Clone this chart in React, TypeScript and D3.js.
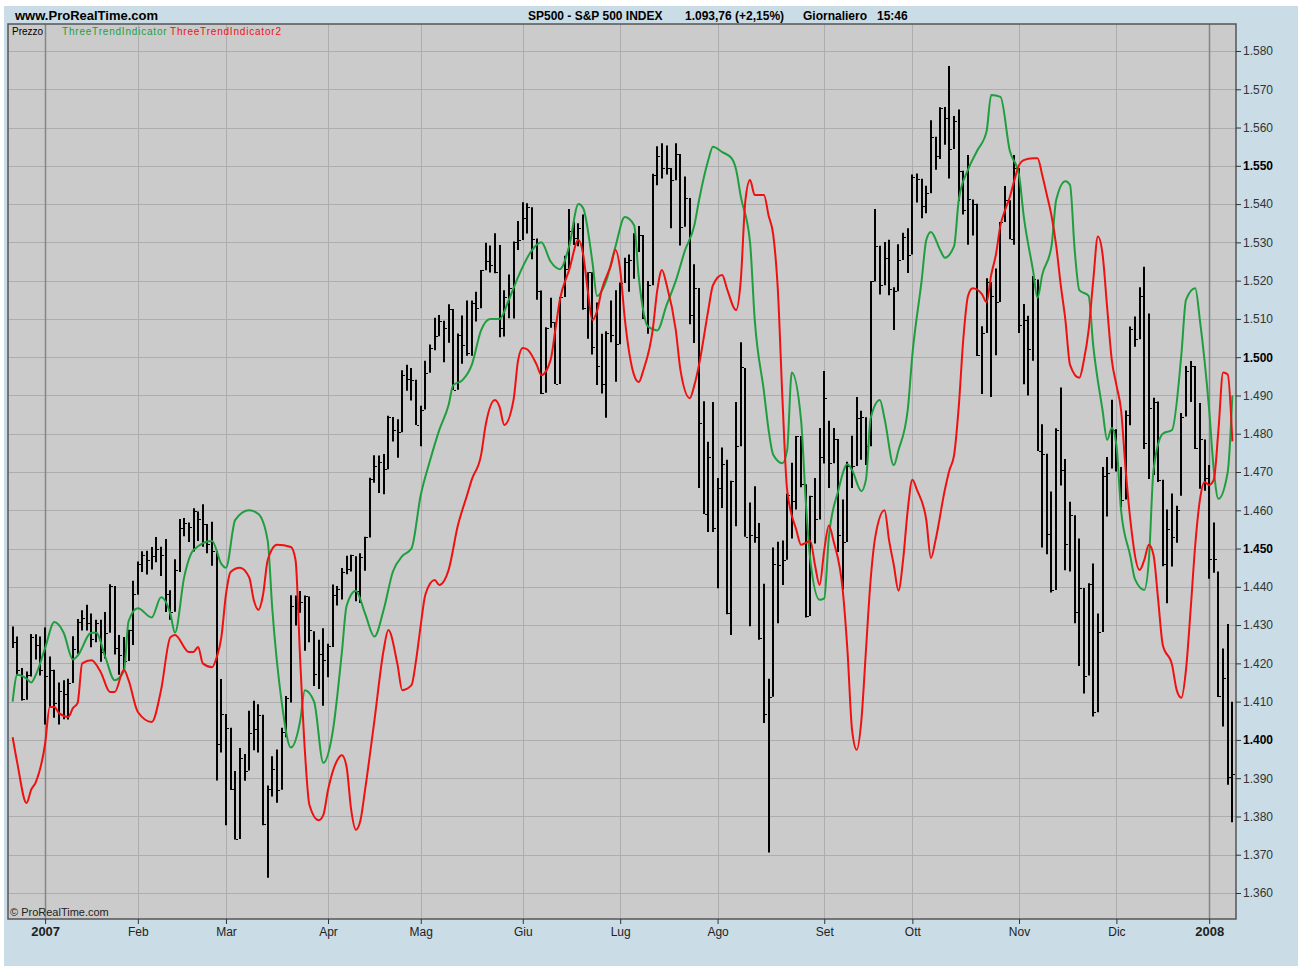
import * as d3 from "d3";
import { useRef, useEffect } from "react";

const width = 1298;
const height = 967;
const plotLeft = 8;
const plotRight = 1236;
const plotTop = 24;
const plotBottom = 919;

const fontFamily = "'Liberation Sans', Arial, Helvetica, sans-serif";

// [day, high, low, close]
type Row = [number, number, number, number];

const dec06: Row[] = [
  [20, 1429.6, 1424.0, 1425.5], [21, 1427.0, 1416.8, 1418.3], [22, 1418.8, 1410.3, 1410.8],
  [26, 1417.9, 1410.5, 1416.9], [27, 1427.7, 1416.6, 1426.8], [28, 1427.6, 1421.0, 1424.7],
  [29, 1427.0, 1416.8, 1418.3],
];
const jan07: Row[] = [
  [3, 1429.4, 1404.0, 1416.6], [4, 1421.8, 1408.4, 1418.3], [5, 1418.3, 1405.8, 1409.7],
  [8, 1415.0, 1404.0, 1412.8], [9, 1415.6, 1405.4, 1412.1], [10, 1416.0, 1405.3, 1414.9],
  [11, 1427.1, 1414.9, 1423.8], [12, 1431.6, 1422.5, 1430.7], [16, 1433.9, 1428.6, 1431.9],
  [17, 1435.3, 1428.6, 1430.6], [18, 1433.0, 1424.2, 1426.4], [19, 1431.4, 1425.5, 1430.5],
  [22, 1431.4, 1420.4, 1423.0], [23, 1433.4, 1421.3, 1428.0], [24, 1440.7, 1428.0, 1440.1],
  [25, 1440.2, 1422.3, 1423.9], [26, 1427.4, 1417.0, 1422.2], [29, 1426.9, 1418.5, 1420.6],
  [30, 1428.8, 1420.6, 1428.8], [31, 1441.6, 1424.8, 1438.2],
];
const feb07: Row[] = [
  [1, 1446.6, 1437.9, 1445.9], [2, 1449.3, 1443.9, 1448.4], [5, 1449.4, 1443.2, 1447.0],
  [6, 1450.4, 1444.5, 1448.0], [7, 1453.0, 1446.4, 1450.0], [8, 1450.5, 1442.8, 1448.3],
  [9, 1452.5, 1433.4, 1438.1], [12, 1439.1, 1431.4, 1433.4], [13, 1447.2, 1433.5, 1444.3],
  [14, 1457.7, 1443.9, 1455.3], [15, 1458.0, 1453.2, 1456.8], [16, 1456.8, 1451.7, 1455.5],
  [20, 1460.5, 1449.2, 1459.7], [21, 1459.7, 1452.0, 1457.6], [22, 1461.6, 1450.5, 1456.4],
  [23, 1456.4, 1448.8, 1451.2], [26, 1457.0, 1445.5, 1449.4], [27, 1449.4, 1389.4, 1399.0],
  [28, 1415.9, 1396.7, 1406.8],
];
const mar07: Row[] = [
  [1, 1406.8, 1377.7, 1403.2], [2, 1403.2, 1386.9, 1387.2], [5, 1391.9, 1374.0, 1374.1],
  [6, 1397.9, 1374.1, 1395.4], [7, 1396.3, 1389.3, 1392.0], [8, 1407.6, 1392.0, 1401.9],
  [9, 1410.2, 1397.3, 1402.8], [12, 1409.3, 1396.7, 1406.6], [13, 1406.6, 1377.7, 1378.0],
  [14, 1388.1, 1364.0, 1387.2], [15, 1395.7, 1385.2, 1392.3], [16, 1397.5, 1383.6, 1387.0],
  [19, 1403.2, 1387.0, 1402.1], [20, 1411.5, 1400.7, 1410.9], [21, 1437.8, 1409.8, 1435.0],
  [22, 1437.7, 1429.9, 1434.5], [23, 1438.9, 1433.2, 1436.1], [26, 1437.7, 1423.3, 1437.5],
  [27, 1437.5, 1425.5, 1428.6], [28, 1428.4, 1414.1, 1417.2], [29, 1426.2, 1413.3, 1422.5],
  [30, 1429.2, 1408.9, 1420.9],
];
const apr07: Row[] = [
  [2, 1425.1, 1416.4, 1424.6], [3, 1440.6, 1424.3, 1437.8], [4, 1440.2, 1435.1, 1439.4],
  [5, 1444.9, 1436.7, 1443.8], [9, 1448.1, 1443.3, 1444.6], [10, 1448.4, 1444.0, 1448.4],
  [11, 1448.0, 1436.2, 1438.9], [12, 1448.8, 1435.8, 1447.8], [13, 1453.1, 1444.2, 1452.9],
  [16, 1468.5, 1452.9, 1468.3], [17, 1474.4, 1467.2, 1471.5], [18, 1474.3, 1464.5, 1472.5],
  [19, 1474.7, 1464.2, 1470.7], [20, 1484.7, 1470.7, 1484.4], [23, 1484.4, 1478.0, 1480.9],
  [24, 1483.8, 1473.7, 1480.4], [25, 1496.6, 1480.4, 1495.4], [26, 1498.0, 1491.2, 1494.3],
  [27, 1497.2, 1488.7, 1494.1], [30, 1494.1, 1482.3, 1482.4],
];
const may07: Row[] = [
  [1, 1487.3, 1476.7, 1486.3], [2, 1499.1, 1486.3, 1495.9], [3, 1503.3, 1495.9, 1502.4],
  [4, 1510.3, 1501.8, 1505.6], [7, 1511.0, 1505.5, 1509.5], [8, 1509.5, 1498.7, 1507.7],
  [9, 1513.8, 1503.8, 1512.6], [10, 1512.6, 1491.4, 1491.5], [11, 1506.2, 1491.5, 1505.9],
  [14, 1510.9, 1498.3, 1503.2], [15, 1514.8, 1500.4, 1501.2], [16, 1514.8, 1500.4, 1514.1],
  [17, 1517.1, 1509.3, 1512.8], [18, 1522.8, 1512.8, 1522.8], [21, 1529.9, 1522.7, 1525.1],
  [22, 1529.2, 1522.1, 1524.1], [23, 1532.4, 1521.9, 1522.3], [24, 1529.3, 1505.2, 1507.5],
  [25, 1517.5, 1505.4, 1515.7], [29, 1521.6, 1510.2, 1518.1], [30, 1530.2, 1510.1, 1530.2],
  [31, 1535.6, 1528.0, 1530.6],
];
const jun07: Row[] = [
  [1, 1540.5, 1530.6, 1536.3], [4, 1540.2, 1532.3, 1539.2], [5, 1539.2, 1525.6, 1531.0],
  [6, 1531.0, 1515.0, 1517.4], [7, 1517.4, 1490.4, 1490.7], [8, 1507.8, 1490.7, 1507.7],
  [11, 1515.5, 1507.7, 1509.1], [12, 1509.1, 1493.0, 1493.0], [13, 1515.7, 1493.0, 1515.7],
  [14, 1526.5, 1515.7, 1523.0], [15, 1538.7, 1523.0, 1532.9], [18, 1535.4, 1529.3, 1531.1],
  [19, 1535.0, 1529.0, 1533.7], [20, 1537.3, 1512.4, 1512.8], [21, 1522.2, 1504.8, 1522.2],
  [22, 1522.2, 1500.7, 1502.6], [25, 1514.3, 1492.7, 1497.7], [26, 1506.1, 1490.5, 1492.9],
  [27, 1506.8, 1484.2, 1506.3], [28, 1514.8, 1503.9, 1505.7], [29, 1517.5, 1493.6, 1503.4],
];
const jul07: Row[] = [
  [2, 1519.5, 1503.4, 1519.4], [3, 1526.0, 1519.4, 1524.9], [5, 1526.8, 1517.1, 1525.4],
  [6, 1532.4, 1520.5, 1530.4], [9, 1534.3, 1527.5, 1531.9], [10, 1531.9, 1510.0, 1510.1],
  [11, 1519.9, 1506.1, 1518.8], [12, 1547.9, 1518.8, 1547.7], [13, 1555.1, 1544.9, 1552.5],
  [16, 1555.9, 1546.7, 1549.5], [17, 1555.3, 1547.7, 1549.4], [18, 1549.4, 1533.7, 1546.2],
  [19, 1555.9, 1546.2, 1553.1], [20, 1553.1, 1529.2, 1534.1], [23, 1547.2, 1534.1, 1541.6],
  [24, 1541.6, 1508.6, 1511.0], [25, 1524.3, 1503.7, 1518.1], [26, 1518.1, 1465.8, 1482.7],
  [27, 1488.5, 1459.0, 1459.0], [30, 1477.9, 1454.3, 1473.9], [31, 1488.3, 1454.3, 1455.3],
];
const aug07: Row[] = [
  [1, 1468.4, 1439.6, 1465.8], [2, 1476.4, 1460.6, 1472.2], [3, 1473.2, 1432.8, 1433.1],
  [6, 1467.7, 1427.4, 1467.7], [7, 1488.3, 1455.8, 1476.7], [8, 1503.9, 1476.7, 1497.5],
  [9, 1497.2, 1453.1, 1453.1], [10, 1462.0, 1429.7, 1453.6], [13, 1466.3, 1451.5, 1452.9],
  [14, 1456.7, 1426.2, 1426.5], [15, 1440.8, 1404.4, 1406.7], [16, 1416.0, 1370.6, 1411.3],
  [17, 1450.3, 1411.3, 1445.9], [20, 1451.8, 1430.5, 1445.6], [21, 1452.1, 1440.5, 1447.1],
  [22, 1464.4, 1447.1, 1464.1], [23, 1472.4, 1452.6, 1462.5], [24, 1479.4, 1460.2, 1479.4],
  [27, 1479.4, 1466.0, 1466.8], [28, 1466.8, 1432.0, 1432.4], [29, 1463.8, 1432.4, 1463.8],
  [30, 1468.4, 1451.3, 1457.6], [31, 1481.5, 1457.6, 1474.0],
];
const sep07: Row[] = [
  [4, 1496.4, 1472.2, 1489.4], [5, 1483.4, 1465.8, 1472.3], [6, 1481.5, 1472.3, 1478.6],
  [7, 1478.6, 1449.1, 1453.6], [10, 1462.8, 1439.3, 1451.7], [11, 1472.7, 1451.7, 1471.5],
  [12, 1479.5, 1465.8, 1471.6], [13, 1489.6, 1471.6, 1484.0], [14, 1486.0, 1473.2, 1484.3],
  [17, 1484.3, 1471.8, 1476.7], [18, 1519.9, 1476.7, 1519.8], [19, 1538.7, 1519.8, 1529.0],
  [20, 1529.1, 1516.4, 1518.8], [21, 1530.1, 1518.8, 1525.8], [24, 1530.7, 1516.2, 1517.7],
  [25, 1518.3, 1507.1, 1517.2], [26, 1529.5, 1517.2, 1525.4], [27, 1532.5, 1525.4, 1531.4],
  [28, 1533.7, 1522.0, 1526.8],
];
const oct07: Row[] = [
  [1, 1547.7, 1526.8, 1547.0], [2, 1548.0, 1540.4, 1546.6], [3, 1546.6, 1536.3, 1539.6],
  [4, 1544.8, 1537.6, 1542.8], [5, 1561.9, 1542.8, 1557.6], [8, 1557.6, 1549.0, 1552.6],
  [9, 1565.3, 1551.8, 1565.2], [10, 1565.4, 1555.5, 1562.5], [11, 1576.1, 1546.7, 1554.4],
  [12, 1563.0, 1554.4, 1561.8], [15, 1564.7, 1540.8, 1548.7], [16, 1548.7, 1537.3, 1538.5],
  [17, 1552.8, 1529.4, 1541.2], [18, 1541.2, 1531.8, 1540.1], [19, 1540.1, 1500.3, 1500.6],
  [22, 1508.1, 1490.4, 1506.3], [23, 1520.6, 1506.3, 1519.6], [24, 1519.6, 1489.6, 1515.9],
  [25, 1523.2, 1500.5, 1514.4], [26, 1535.3, 1514.4, 1535.3], [29, 1544.7, 1535.3, 1541.0],
  [30, 1541.0, 1530.8, 1531.0], [31, 1552.8, 1529.4, 1549.4],
];
const nov07: Row[] = [
  [1, 1549.4, 1506.3, 1508.4], [2, 1513.9, 1492.9, 1509.7], [5, 1510.8, 1490.0, 1502.2],
  [6, 1521.2, 1499.1, 1520.3], [7, 1520.3, 1475.5, 1475.6], [8, 1482.5, 1450.3, 1474.8],
  [9, 1474.8, 1448.5, 1453.7], [12, 1464.9, 1438.5, 1439.2], [13, 1481.4, 1439.2, 1481.1],
  [14, 1492.1, 1466.5, 1470.6], [15, 1473.4, 1444.3, 1451.2], [16, 1462.2, 1444.0, 1458.7],
  [19, 1458.7, 1430.5, 1433.3], [20, 1452.6, 1419.3, 1439.7], [21, 1439.7, 1412.1, 1416.8],
  [23, 1440.9, 1416.8, 1440.7], [26, 1446.1, 1406.1, 1407.2], [27, 1433.0, 1407.2, 1428.2],
  [28, 1471.3, 1428.2, 1469.0], [29, 1473.9, 1458.4, 1469.7], [30, 1488.9, 1470.9, 1481.1],
];
const dec07: Row[] = [
  [3, 1481.2, 1470.1, 1472.4], [4, 1471.3, 1460.7, 1462.8], [5, 1486.1, 1462.8, 1485.0],
  [6, 1508.0, 1482.2, 1507.3], [7, 1510.6, 1502.7, 1504.7], [10, 1518.3, 1504.7, 1516.0],
  [11, 1523.6, 1476.0, 1477.7], [12, 1511.4, 1468.2, 1486.6], [13, 1489.4, 1469.2, 1488.4],
  [14, 1488.4, 1467.4, 1468.0], [17, 1468.0, 1445.4, 1445.9], [18, 1460.2, 1435.7, 1455.0],
  [19, 1464.4, 1445.3, 1453.0], [20, 1461.2, 1451.5, 1460.1], [21, 1485.4, 1463.8, 1484.5],
  [24, 1497.7, 1484.5, 1496.5], [26, 1499.0, 1488.3, 1497.7], [27, 1497.7, 1476.0, 1476.3],
  [28, 1488.0, 1465.6, 1478.5], [31, 1478.5, 1465.1, 1468.4],
];
const jan08: Row[] = [
  [2, 1471.8, 1442.1, 1447.2], [3, 1456.8, 1443.7, 1447.2], [4, 1444.0, 1411.2, 1411.6],
  [7, 1423.9, 1403.5, 1416.2], [8, 1430.3, 1388.3, 1390.2], [9, 1410.0, 1378.5, 1391.0],
];

const months: [string, Row[]][] = [
  ["2006-12", dec06], ["2007-01", jan07], ["2007-02", feb07], ["2007-03", mar07],
  ["2007-04", apr07], ["2007-05", may07], ["2007-06", jun07], ["2007-07", jul07],
  ["2007-08", aug07], ["2007-09", sep07], ["2007-10", oct07], ["2007-11", nov07],
  ["2007-12", dec07], ["2008-01", jan08],
];

const monthLabels = ["2007", "Feb", "Mar", "Apr", "Mag", "Giu", "Lug", "Ago", "Set", "Ott", "Nov", "Dic", "2008"];
const yearLabels = ["2007", "2008"];

// [bar index, value]
const threeTrend: [number, number][] = [
  [0, 1410], [1, 1417], [3, 1416], [4, 1415], [5, 1417], [7, 1424], [9, 1430.8], [11, 1428],
  [13, 1421], [14, 1422], [17, 1428], [18, 1428], [20, 1421.6], [22, 1415.6], [24, 1418],
  [25, 1431], [27, 1434.4], [30, 1432], [32, 1437.3], [34, 1433], [35, 1428], [37, 1442.6],
  [39, 1449.6], [43, 1452], [45, 1446], [46, 1445], [48, 1457.5], [51, 1460], [53, 1459],
  [55, 1452], [56, 1434], [58, 1410], [60, 1398], [62, 1405], [63, 1413], [65, 1410],
  [67, 1394], [69, 1402], [71, 1423], [72, 1435], [74, 1439], [76, 1433], [78, 1427],
  [80, 1434], [82, 1444], [84, 1448], [86, 1450], [88, 1464], [90, 1473], [92, 1481],
  [94, 1487.5], [95, 1492.7], [97, 1494], [99, 1498], [101, 1507], [103, 1510], [105, 1510],
  [107, 1515], [109, 1521], [112, 1528], [114, 1530], [116, 1525], [118, 1523], [120, 1529],
  [122, 1540], [123, 1539], [125, 1525], [126, 1516], [128, 1520], [130, 1529], [132, 1536.6],
  [134, 1534.5], [135, 1521], [137, 1508], [139, 1507], [141, 1513.6], [143, 1520], [145, 1528],
  [147, 1534.5], [148, 1541], [150, 1551.5], [151, 1555], [153, 1553.6], [155, 1552], [156, 1549],
  [157, 1542], [159, 1530], [160, 1510], [162, 1491], [163, 1481], [164, 1474.5], [166, 1472.3],
  [167, 1475.7], [168, 1496], [170, 1483.6], [171, 1462.7], [172, 1447], [174, 1436.6],
  [175, 1437], [176, 1453], [178, 1465], [180, 1472], [181, 1470.5], [183, 1465], [184, 1468],
  [185, 1484], [187, 1488.8], [188, 1484], [190, 1471.8], [191, 1475.7], [193, 1486.2],
  [194, 1500.6], [196, 1520], [197, 1530.6], [198, 1532.7], [200, 1528], [201, 1526],
  [203, 1529], [204, 1541], [206, 1549], [208, 1554], [210, 1559], [211, 1568.5], [213, 1568],
  [215, 1554], [217, 1547.6], [218, 1537], [220, 1522.8], [221, 1515.5], [222, 1521.5],
  [224, 1529], [225, 1541], [227, 1546], [228, 1545], [229, 1528], [230, 1517.5], [232, 1516],
  [233, 1503], [235, 1486.2], [236, 1478.4], [237, 1481.5], [238, 1477], [239, 1460],
  [241, 1448], [242, 1442], [244, 1439.2], [245, 1447], [246, 1470.5], [248, 1480], [250, 1481],
  [252, 1500.6], [253, 1515], [255, 1518], [256, 1509.7], [258, 1486.2], [259, 1470.5],
  [260, 1463], [262, 1470], [263, 1490],
];

const threeTrend2: [number, number][] = [
  [0, 1400.7], [1, 1394], [3, 1383.5], [4, 1387], [5, 1389], [7, 1399], [8, 1408.6], [9, 1408.6],
  [10, 1407], [12, 1406], [13, 1408.3], [14, 1409.6], [15, 1420], [17, 1420.8], [19, 1417.7],
  [21, 1412.5], [22, 1412.5], [24, 1418.3], [25, 1415.6], [27, 1407.3], [30, 1404.7], [32, 1413],
  [34, 1426.8], [35, 1427.4], [38, 1423], [39, 1423], [40, 1424.3], [41, 1420], [43, 1419],
  [44, 1421.6], [45, 1426.8], [46, 1438], [47, 1443.9], [49, 1445], [51, 1442.5], [52, 1436.5],
  [53, 1434], [54, 1438], [55, 1447], [57, 1451], [60, 1450.4], [61, 1447], [62, 1421],
  [63, 1397.4], [64, 1383], [66, 1379], [67, 1380.4], [68, 1386.9], [70, 1394.7], [71, 1396],
  [72, 1393], [73, 1381.7], [74, 1376.5], [75, 1379], [76, 1387], [78, 1405], [80, 1423.5],
  [81, 1428.7], [83, 1419.6], [84, 1413], [86, 1414.3], [87, 1420.9], [88, 1430], [89, 1438],
  [91, 1441.8], [92, 1440.5], [94, 1444.4], [96, 1456], [98, 1464], [99, 1468], [101, 1474.4],
  [102, 1482.3], [104, 1488.8], [105, 1487], [106, 1482.3], [108, 1488.8], [109, 1499.3],
  [110, 1502.4], [111, 1502], [113, 1498], [114, 1495.3], [116, 1499.3], [117, 1507],
  [118, 1515], [120, 1522.8], [122, 1530.6], [123, 1527], [124, 1517.5], [125, 1509.7],
  [126, 1512], [127, 1517.5], [129, 1524], [130, 1528], [131, 1522.8], [132, 1510],
  [134, 1495.3], [135, 1493.5], [136, 1496.6], [138, 1507], [139, 1517.5], [140, 1522.8],
  [141, 1519], [143, 1507], [144, 1496.6], [146, 1489.3], [147, 1492.7], [148, 1498],
  [150, 1512.3], [151, 1518.8], [153, 1521.5], [154, 1518], [156, 1512.3], [157, 1520],
  [158, 1541], [159, 1546.3], [160, 1542.4], [162, 1542.4], [163, 1537], [164, 1532],
  [165, 1517.5], [166, 1488.8], [167, 1465.3], [169, 1454.8], [170, 1451], [172, 1452],
  [173, 1445.7], [174, 1440.5], [175, 1449.6], [176, 1456], [177, 1452], [179, 1439],
  [180, 1423.5], [181, 1402.6], [182, 1397.4], [183, 1405], [184, 1423.5], [185, 1441.8],
  [186, 1453], [188, 1460], [189, 1452], [190, 1445.7], [191, 1439], [192, 1447], [193, 1460],
  [194, 1468], [195, 1465.3], [197, 1457.5], [198, 1447.5], [199, 1452.2], [201, 1465.3],
  [202, 1470.5], [203, 1474.4], [204, 1487], [205, 1505], [206, 1516], [207, 1518],
  [209, 1516.5], [210, 1514.4], [211, 1521.5], [212, 1526.7], [213, 1534.5], [214, 1538.5],
  [215, 1541.8], [216, 1546.3], [217, 1550.2], [218, 1551.5], [220, 1552], [221, 1552],
  [222, 1547.6], [223, 1542.4], [224, 1537], [225, 1529.3], [226, 1518.8], [227, 1509.7],
  [228, 1498], [230, 1494.6], [231, 1499.3], [232, 1507], [233, 1520], [234, 1531.5],
  [235, 1527], [236, 1513], [237, 1499.3], [238, 1492.7], [239, 1486.2], [240, 1470.5],
  [241, 1457.5], [243, 1444.4], [244, 1447], [245, 1451], [246, 1448.3], [247, 1436.6],
  [248, 1424.8], [250, 1419.6], [251, 1413], [252, 1411], [253, 1418.3], [254, 1434],
  [255, 1451], [256, 1462.7], [257, 1467.4], [258, 1466.6], [259, 1468], [260, 1481],
  [261, 1496], [262, 1495.5], [263, 1478],
];

const bars = months.flatMap(([ym, rows]) =>
  rows.map((r) => ({ month: ym, day: r[0], high: r[1], low: r[2], close: r[3] }))
);

const monthStarts = bars
  .map((b, i) => (i > 0 && b.month !== bars[i - 1].month ? i : -1))
  .filter((i) => i >= 0);

const itFormat = d3.formatLocale({
  decimal: ",",
  thousands: ".",
  grouping: [3],
  currency: ["", "€"],
}).format(",d");

const yTicks = d3.range(1360, 1581, 10);

const App = () => {
  const gx = useRef<SVGGElement>(null);
  const gy = useRef<SVGGElement>(null);

  const x = d3.scaleLinear().domain([-1, 264]).range([plotLeft, plotRight + 1]);
  const y = d3.scaleLinear().domain([1360, 1580]).range([893, 51]);

  useEffect(() => {
    if (gy.current) {
      const g = d3.select(gy.current);
      g.selectAll("*").remove();
      g.call(d3.axisRight(y).tickValues(yTicks).tickSize(5).tickPadding(2).tickFormat((d) => itFormat(d as number)))
        .call((s) => s.select(".domain").remove());
      g.selectAll(".tick line").attr("stroke", "#333");
      g.selectAll<SVGTextElement, number>(".tick text")
        .attr("font-family", fontFamily)
        .attr("font-size", 12)
        .attr("fill", (d) => (d % 50 === 0 ? "#000" : "#333"))
        .attr("font-weight", (d) => (d % 50 === 0 ? "bold" : "normal"));
    }
    if (gx.current) {
      const g = d3.select(gx.current);
      g.selectAll("*").remove();
      g.call(
        d3.axisBottom(x).tickValues(monthStarts).tickSize(5).tickPadding(3)
          .tickFormat((_, i) => monthLabels[i])
      ).call((s) => s.select(".domain").remove());
      g.selectAll(".tick line").attr("stroke", "#333");
      g.selectAll<SVGTextElement, number>(".tick text")
        .attr("font-family", fontFamily)
        .attr("fill", "#222")
        .attr("font-size", (_, i) => (yearLabels.includes(monthLabels[i]) ? 13 : 12))
        .attr("font-weight", (_, i) => (yearLabels.includes(monthLabels[i]) ? "bold" : "normal"));
    }
  }, []);

  const lineBuilder = d3
    .line<[number, number]>()
    .x((d) => x(d[0]))
    .y((d) => y(d[1]))
    .curve(d3.curveMonotoneX);

  return (
    <div>
      <style>{`body{margin:0}`}</style>
      <svg width={width} height={height} viewBox={`0 0 ${width} ${height}`} style={{ display: "block" }}>
        <defs>
          <clipPath id="plotClip">
            <rect x={plotLeft} y={plotTop} width={plotRight - plotLeft} height={plotBottom - plotTop} />
          </clipPath>
        </defs>
        <rect width={width} height={height} fill="#fff" />
        <rect x={4} y={6} width={width - 4} height={height - 7} fill="#cadce5" />

        <text x={15} y={20} fontFamily={fontFamily} fontSize={13} fontWeight="bold" fill="#000">
          www.ProRealTime.com
        </text>
        <text x={528} y={20} fontFamily={fontFamily} fontSize={12} fontWeight="bold" fill="#000">
          SP500 - S&amp;P 500 INDEX
        </text>
        <text x={685} y={20} fontFamily={fontFamily} fontSize={12} fontWeight="bold" fill="#000">
          1.093,76 (+2,15%)
        </text>
        <text x={803} y={20} fontFamily={fontFamily} fontSize={12} fontWeight="bold" fill="#000">
          Giornaliero
        </text>
        <text x={877} y={20} fontFamily={fontFamily} fontSize={12} fontWeight="bold" fill="#000">
          15:46
        </text>

        <rect x={plotLeft} y={plotTop} width={plotRight - plotLeft} height={plotBottom - plotTop} fill="#cbcbcb" />

        {yTicks.map((v) => (
          <line key={v} x1={plotLeft} x2={plotRight} y1={Math.round(y(v)) + 0.5} y2={Math.round(y(v)) + 0.5}
            stroke="#adadad" strokeWidth={1} />
        ))}
        {monthStarts.map((i, k) => (
          <line key={i} x1={Math.round(x(i)) + 0.5} x2={Math.round(x(i)) + 0.5} y1={plotTop} y2={plotBottom}
            stroke={yearLabels.includes(monthLabels[k]) ? "#858585" : "#adadad"}
            strokeWidth={yearLabels.includes(monthLabels[k]) ? 1.5 : 1} />
        ))}

        <text x={12} y={35} fontFamily={fontFamily} fontSize={10} fill="#000">Prezzo</text>
        <text x={62} y={35} fontFamily={fontFamily} fontSize={10} fill="#1e9e3e" letterSpacing={0.8}>
          ThreeTrendIndicator
        </text>
        <text x={170} y={35} fontFamily={fontFamily} fontSize={10} fill="#f01010" letterSpacing={0.8}>
          ThreeTrendIndicator2
        </text>

        <g clipPath="url(#plotClip)">
          {bars.map((b, i) => {
            const cx = Math.round(x(i));
            return (
              <g key={i}>
                <line x1={cx} x2={cx} y1={y(b.high)} y2={y(b.low)} stroke="#000" strokeWidth={2} />
                <line x1={cx + 1} x2={cx + 3} y1={Math.round(y(b.close)) + 0.5} y2={Math.round(y(b.close)) + 0.5}
                  stroke="#000" strokeWidth={1} />
              </g>
            );
          })}
          <path d={lineBuilder(threeTrend) as string} fill="none" stroke="#1e9e3e" strokeWidth={2} />
          <path d={lineBuilder(threeTrend2) as string} fill="none" stroke="#f01010" strokeWidth={2} />
        </g>

        <rect x={plotLeft} y={plotTop} width={plotRight - plotLeft} height={plotBottom - plotTop}
          fill="none" stroke="#555" strokeWidth={1.5} />

        <text x={10} y={916} fontFamily={fontFamily} fontSize={11} fill="#222">© ProRealTime.com</text>

        <g ref={gx} transform={`translate(0, ${plotBottom})`} />
        <g ref={gy} transform={`translate(${plotRight}, 0)`} />
      </svg>
    </div>
  );
};

export default App;
